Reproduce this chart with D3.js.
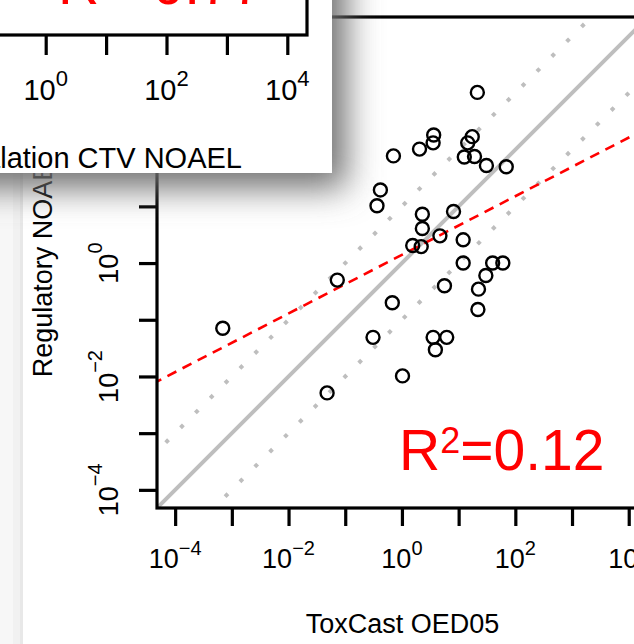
<!DOCTYPE html>
<html>
<head>
<meta charset="utf-8">
<script src="https://cdn.jsdelivr.net/npm/d3@7"></script>
<style>
  body { margin: 0; background: #fff; }
  svg { display: block; font-family: "Liberation Sans", Arial, sans-serif; }
</style>
</head>
<body>
<div id="chart"></div>
<script>
// values, as log10 of the dose
var oedLog10 = [-3.16, -1.32, -1.14, -0.51, -0.17, 0.01, -0.38, -0.44, -0.15, 0.31,
	0.56, 0.55, 1.24, 1.16, 1.10, 1.28, 1.49, 1.84, 0.36, 0.36,
	0.91, 0.67, 0.19, 0.34, 1.08, 1.08, 1.60, 1.78, 1.48, 1.35,
	1.34, 0.75, 0.55, 0.79, 0.59, 1.33];
var noaelLog10 = [-1.15, -2.29, -0.30, -1.31, -0.70, -1.99, 1.29, 1.01, 1.89, 2.01,
	2.26, 2.12, 2.23, 2.12, 1.87, 1.88, 1.72, 1.70, 0.86, 0.61,
	0.91, 0.48, 0.31, 0.29, 0.41, 0.00, 0.00, 0.00, -0.22, -0.46,
	-0.82, -0.40, -1.31, -1.31, -1.53, 3.01];

var fitSlope = 0.517, fitIntercept = 0.145;
var r2Main = "0.12", r2Inset = "0.77";

var tickDecades = [-4, -3, -2, -1, 0, 1, 2, 3, 4];
var labelDecades = [-4, -2, 0, 2, 4];
var insetTickDecades = [0, 1, 2, 3, 4];
var insetLabelDecades = [0, 2, 4];

var xTitle = "ToxCast OED05";
var yTitle = "Regulatory NOAEL";
var insetTitle = "Inhalation CTV NOAEL";

var W = 634, H = 644;
var P = {left: 157, right: 648, top: 17, bottom: 508};
var lo = Math.pow(10, -4.32), hi = Math.pow(10, 4.34);

var svg = d3.select("#chart").append("svg")
	.attr("width", W)
	.attr("height", H);

svg.append("rect").attr("width", W).attr("height", H).attr("fill", "#fff");

// faint page strip on the left
svg.append("rect").attr("x", 0).attr("y", 0).attr("width", 13).attr("height", H).attr("fill", "#f7f7f7");
svg.append("rect").attr("x", 13).attr("y", 0).attr("width", 7).attr("height", H).attr("fill", "#f1f1f1");
svg.append("rect").attr("x", 20).attr("y", 0).attr("width", 3).attr("height", H).attr("fill", "#e8e8e8");

var x = d3.scaleLog().domain([lo, hi]).range([P.left, P.right]);
var y = d3.scaleLog().domain([lo, hi]).range([P.bottom, P.top]);
var p10 = v => Math.pow(10, v);

var defs = svg.append("defs");
defs.append("clipPath").attr("id", "plotclip")
	.append("rect")
	.attr("x", P.left).attr("y", P.top)
	.attr("width", P.right - P.left).attr("height", P.bottom - P.top);

var plot = svg.append("g").attr("clip-path", "url(#plotclip)");

var line = d3.line().x(d => x(d[0])).y(d => y(d[1]));
var xs = [1e-6, 1e6];

// 1:1 line and +/- one decade
plot.append("path")
	.attr("d", line(xs.map(v => [v, v])))
	.attr("stroke", "#bebebe").attr("stroke-width", 4).attr("fill", "none");
[10, 0.1].forEach(f => {
	plot.append("path")
		.attr("d", line(xs.map(v => [v, v * f])))
		.attr("stroke", "#bebebe").attr("stroke-width", 4)
		.attr("stroke-dasharray", "4,17").attr("fill", "none");
});

// regression line
plot.append("path")
	.attr("d", line([-6, 6].map(l => [p10(l), p10(fitIntercept + fitSlope * l)])))
	.attr("stroke", "#ff0000").attr("stroke-width", 2.6)
	.attr("stroke-dasharray", "10,7").attr("fill", "none");

plot.selectAll("circle.pt")
	.data(oedLog10.map((v, i) => [v, noaelLog10[i]]))
	.enter().append("circle")
	.attr("class", "pt")
	.attr("cx", d => x(p10(d[0])))
	.attr("cy", d => y(p10(d[1])))
	.attr("r", 6.5)
	.attr("fill", "none")
	.attr("stroke", "#000")
	.attr("stroke-width", 2.4);

// box
svg.append("rect")
	.attr("x", P.left).attr("y", P.top)
	.attr("width", P.right - P.left).attr("height", P.bottom - P.top)
	.attr("fill", "none").attr("stroke", "#000").attr("stroke-width", 3.2);

function styleAxis(g){
	g.select(".domain").remove();
	g.selectAll(".tick line").attr("stroke", "#000").attr("stroke-width", 3.2);
}

svg.append("g")
	.attr("transform", `translate(0,${P.bottom})`)
	.call(d3.axisBottom(x).tickValues(tickDecades.map(p10)).tickSize(18).tickFormat(""))
	.call(styleAxis);

svg.append("g")
	.attr("transform", `translate(${P.left},0)`)
	.call(d3.axisLeft(y).tickValues(tickDecades.map(p10)).tickSize(18).tickFormat(""))
	.call(styleAxis);

// 10^k labels
function powLabel(sel, k, base, sup, dy){
	sel.append("tspan").attr("font-size", base).text("10");
	sel.append("tspan").attr("font-size", sup).attr("dy", dy).text(k < 0 ? "\u2212" + (-k) : String(k));
}

labelDecades.forEach(k => {
	var t = svg.append("text")
		.attr("x", x(p10(k))).attr("y", 568)
		.attr("text-anchor", "middle").attr("fill", "#000");
	powLabel(t, k, 27, 20, -13);
});

labelDecades.forEach(k => {
	var t = svg.append("text")
		.attr("transform", `translate(118,${y(p10(k))}) rotate(-90)`)
		.attr("text-anchor", "middle").attr("fill", "#000");
	powLabel(t, k, 27, 20, -16);
});

svg.append("text")
	.attr("x", (P.left + P.right) / 2).attr("y", 633)
	.attr("text-anchor", "middle").attr("font-size", 27)
	.text(xTitle);

svg.append("text")
	.attr("transform", `translate(52,${(P.top + P.bottom) / 2}) rotate(-90)`)
	.attr("text-anchor", "middle").attr("font-size", 27)
	.text(yTitle);

function r2Text(g, px, py, val){
	var t = g.append("text").attr("x", px).attr("y", py).attr("fill", "#ff0000");
	t.append("tspan").attr("font-size", 57).text("R");
	t.append("tspan").attr("font-size", 36).attr("dy", -17).text("2");
	t.append("tspan").attr("font-size", 57).attr("dy", 17).text("=" + val);
}
r2Text(svg, 399, 470, r2Main);

// inset panel with its drop shadow
var blur = defs.append("filter").attr("id", "shadow")
	.attr("x", "-50%").attr("y", "-50%").attr("width", "200%").attr("height", "200%");
blur.append("feGaussianBlur").attr("stdDeviation", 17);

svg.append("rect")
	.attr("x", -60).attr("y", -60).attr("width", 406).attr("height", 248)
	.attr("fill", "#6e6e6e").attr("filter", "url(#shadow)");

var inset = svg.append("g");
inset.append("rect")
	.attr("x", -10).attr("y", -10).attr("width", 342).attr("height", 183)
	.attr("fill", "#fff");

var ix = d3.scaleLog().domain([1, 1e4]).range([45.7, 287.3]);

inset.append("rect")
	.attr("x", -20).attr("y", -200).attr("width", 327).attr("height", 235)
	.attr("fill", "none").attr("stroke", "#000").attr("stroke-width", 3.2);

inset.append("g")
	.attr("transform", "translate(0,35)")
	.call(d3.axisBottom(ix).tickValues(insetTickDecades.map(p10)).tickSize(20).tickFormat(""))
	.call(styleAxis);

insetLabelDecades.forEach(k => {
	var t = inset.append("text")
		.attr("x", ix(p10(k))).attr("y", 100)
		.attr("text-anchor", "middle").attr("fill", "#000");
	powLabel(t, k, 29, 22, -14);
});

inset.append("text")
	.attr("x", 242).attr("y", 168)
	.attr("text-anchor", "end").attr("font-size", 29)
	.text(insetTitle);

r2Text(inset, 58, 4, r2Inset);
</script>
</body>
</html>
